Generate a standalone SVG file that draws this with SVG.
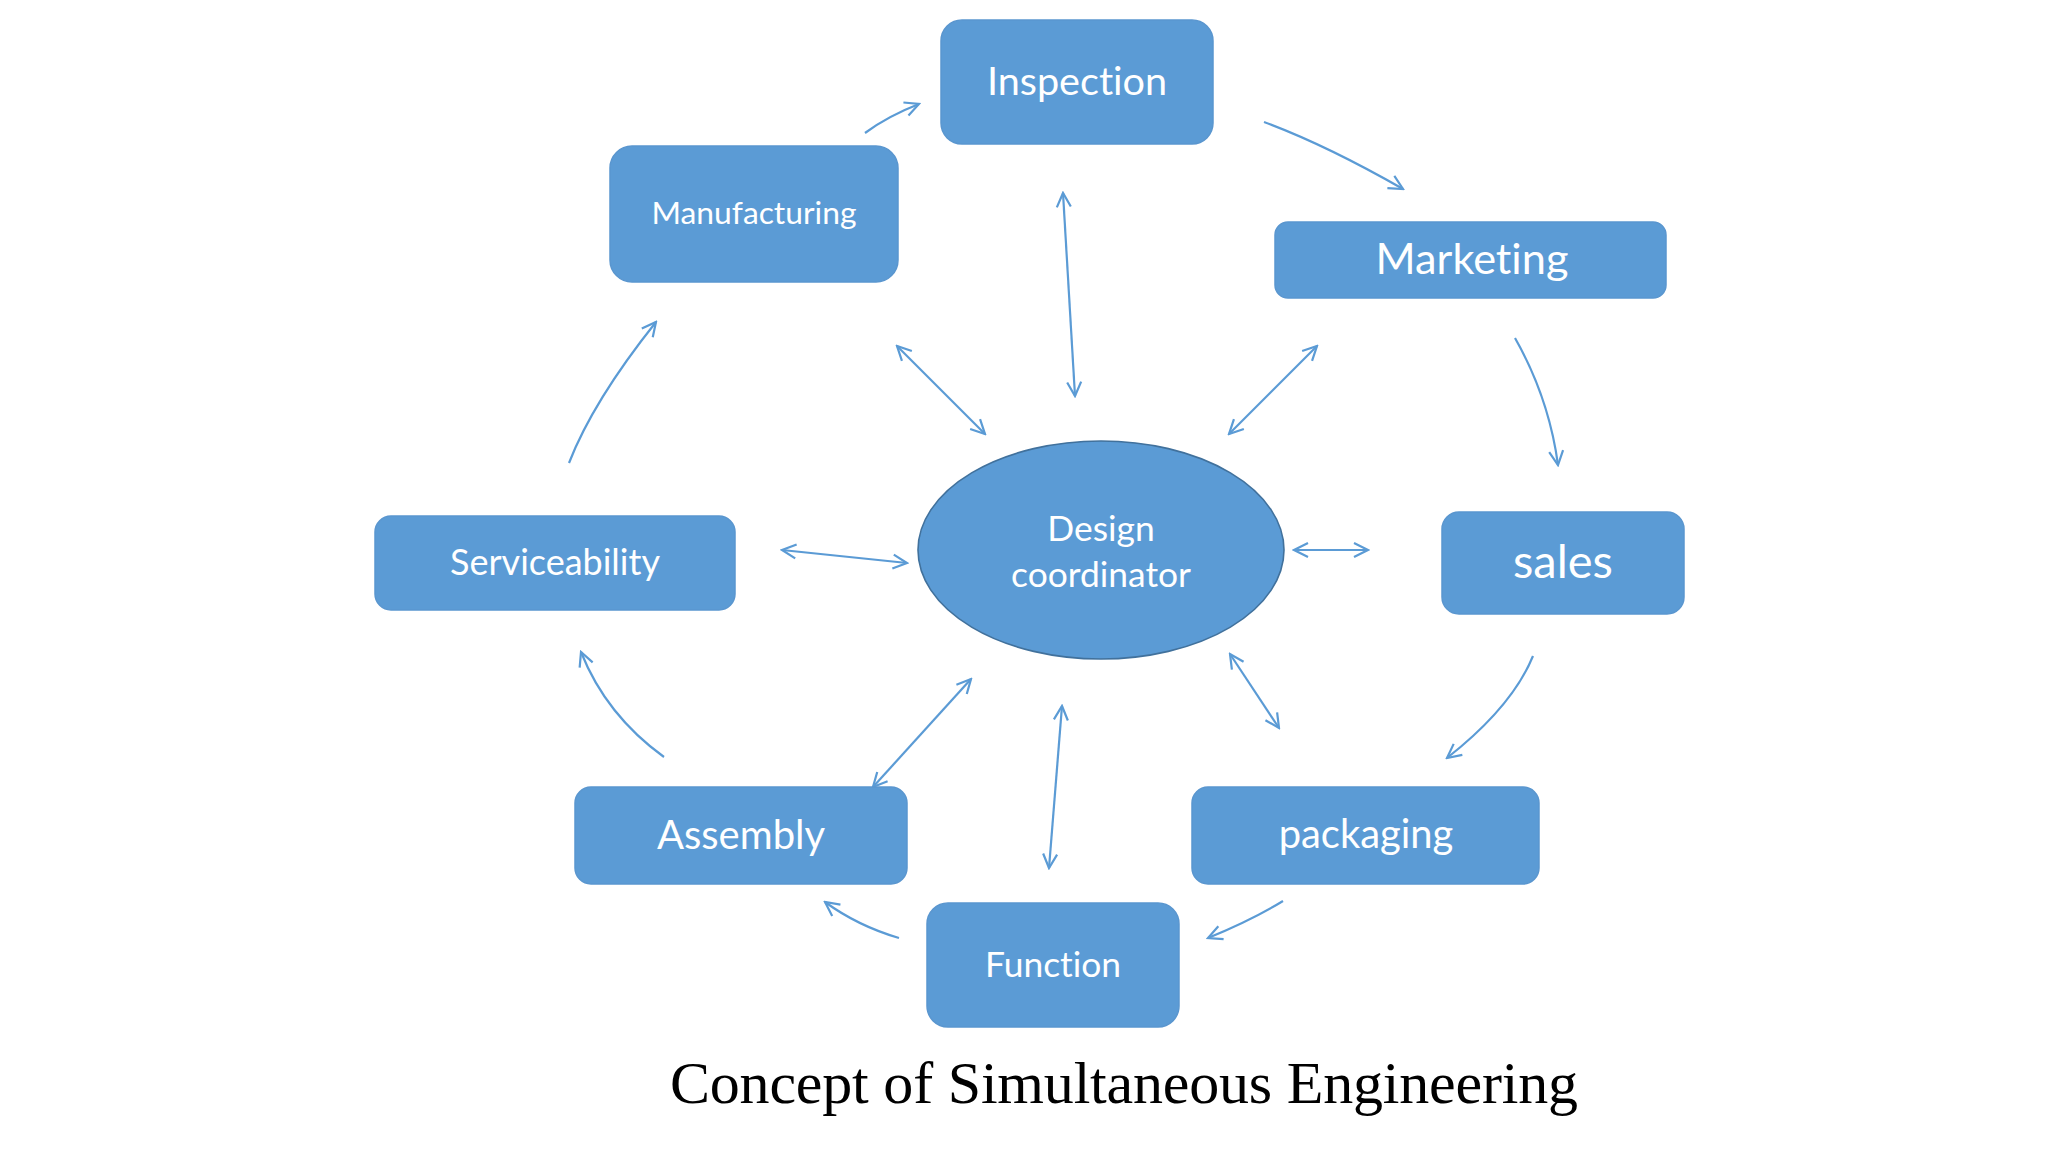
<svg xmlns="http://www.w3.org/2000/svg" width="2048" height="1152" viewBox="0 0 2048 1152">
<defs>
<style>
.box{fill:#5B9BD5;stroke:#5A96CF;stroke-width:1.5}
.lbl{fill:#FFFFFF;font-family:Lato,"Open Sans","Noto Sans",sans-serif;text-anchor:middle;font-variant-ligatures:none}
.con{fill:none;stroke:#5B9BD5;stroke-width:2.2}
.title{fill:#000000;font-family:"Liberation Serif","Times New Roman",serif;font-size:60px}
</style>
<marker id="ah" viewBox="-16 -9 18 18" markerWidth="18" markerHeight="18" refX="0" refY="0" markerUnits="userSpaceOnUse" orient="auto-start-reverse">
<path d="M-14,-7 L0,0 L-14,7" fill="none" stroke="#5B9BD5" stroke-width="2.2" stroke-linejoin="miter"/>
</marker>
</defs>
<rect width="2048" height="1152" fill="#FFFFFF"/>
<g id="connectors">
<path class="con" d="M865,133 Q888,116 919,104" marker-end="url(#ah)"/>
<path class="con" d="M1264,122 Q1326,145 1403,189" marker-end="url(#ah)"/>
<path class="con" d="M1515,338 Q1549,398 1558,465" marker-end="url(#ah)"/>
<path class="con" d="M1533,656 Q1512,707 1447,758" marker-end="url(#ah)"/>
<path class="con" d="M1283,901 Q1252,920 1208,938" marker-end="url(#ah)"/>
<path class="con" d="M899,938 Q858,926 825,902" marker-end="url(#ah)"/>
<path class="con" d="M664,757 Q606,715 581,652" marker-end="url(#ah)"/>
<path class="con" d="M569,463 Q593,401 656,322" marker-end="url(#ah)"/>
<path class="con" d="M1063,193 L1075,396" marker-start="url(#ah)" marker-end="url(#ah)"/>
<path class="con" d="M897,346 L985,434" marker-start="url(#ah)" marker-end="url(#ah)"/>
<path class="con" d="M1317,346 L1229,434" marker-start="url(#ah)" marker-end="url(#ah)"/>
<path class="con" d="M782,550 L907,563" marker-start="url(#ah)" marker-end="url(#ah)"/>
<path class="con" d="M1294,550 L1368,550" marker-start="url(#ah)" marker-end="url(#ah)"/>
<path class="con" d="M971,679 L873,787" marker-start="url(#ah)" marker-end="url(#ah)"/>
<path class="con" d="M1062,706 L1049,868" marker-start="url(#ah)" marker-end="url(#ah)"/>
<path class="con" d="M1230,654 L1279,728" marker-start="url(#ah)" marker-end="url(#ah)"/>
</g>
<g id="inspection">
<rect class="box" x="941" y="20" width="272" height="124" rx="21"/>
<text class="lbl" x="1077" y="95" font-size="39.6">Inspection</text>
</g>
<g id="manufacturing">
<rect class="box" x="610" y="146" width="288" height="136" rx="22"/>
<text class="lbl" x="754" y="224" font-size="31.8">Manufacturing</text>
</g>
<g id="marketing">
<rect class="box" x="1275" y="222" width="391" height="76" rx="13"/>
<text class="lbl" x="1472" y="274" font-size="43.3">Marketing</text>
</g>
<g id="sales">
<rect class="box" x="1442" y="512" width="242" height="102" rx="17"/>
<text class="lbl" x="1563" y="578" font-size="47">sales</text>
</g>
<g id="packaging">
<rect class="box" x="1192" y="787" width="347" height="97" rx="16"/>
<text class="lbl" x="1366" y="848" font-size="39.9">packaging</text>
</g>
<g id="function">
<rect class="box" x="927" y="903" width="252" height="124" rx="21"/>
<text class="lbl" x="1053" y="977" font-size="35.4">Function</text>
</g>
<g id="assembly">
<rect class="box" x="575" y="787" width="332" height="97" rx="16"/>
<text class="lbl" x="741" y="849" font-size="40">Assembly</text>
</g>
<g id="serviceability">
<rect class="box" x="375" y="516" width="360" height="94" rx="16"/>
<text class="lbl" x="555" y="575" font-size="36">Serviceability</text>
</g>
<g id="design-coordinator">
<ellipse cx="1101" cy="550" rx="183" ry="109" fill="#5B9BD5" stroke="#41719C" stroke-width="1.6"/>
<text class="lbl" x="1101" y="541" font-size="35.4">Design</text>
<text class="lbl" x="1101" y="587" font-size="35.4">coordinator</text>
</g>
<text class="title" x="670" y="1103" textLength="908">Concept of Simultaneous Engineering</text>
</svg>
